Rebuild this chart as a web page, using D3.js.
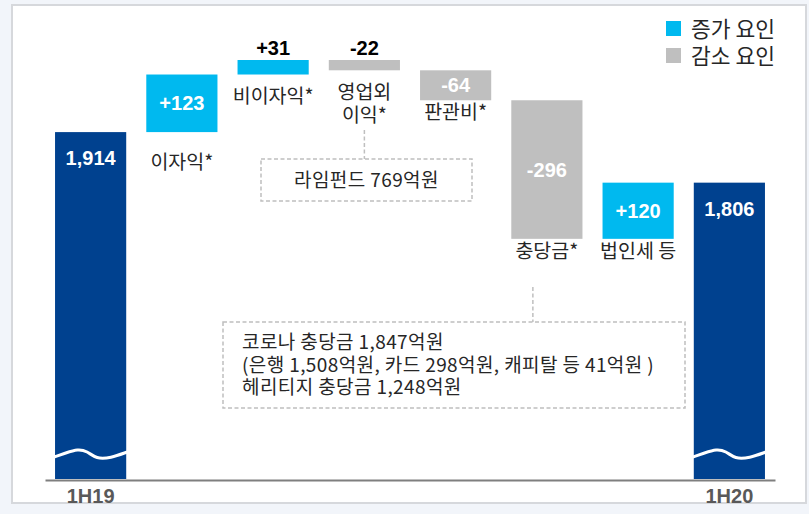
<!DOCTYPE html>
<html>
<head>
<meta charset="utf-8">
<script src="https://cdn.jsdelivr.net/npm/d3@7"></script>
<style>
   html, body { margin: 0; padding: 0; background: #f2f5fa; }
   svg { display: block; }
   .kr { font-family: 'Noto Sans CJK KR', 'Noto Sans', sans-serif; }
   .num { font-family: 'Liberation Sans', Arial, sans-serif; font-weight: bold; }
</style>
</head>
<body>
<div id="chart"></div>
<script>
// waterfall: 1H19 -> 1H20 net income (억원)
const categories = ['1H19', '이자익*', '비이자익*', '영업외\n이익*', '판관비*', '충당금*', '법인세 등', '1H20'];
const values = [1914, 123, 31, -22, -64, -296, 120, 1806];
const kinds = ['total', 'up', 'up', 'down', 'down', 'down', 'up', 'total'];
const valueLabels = ['1,914', '+123', '+31', '-22', '-64', '-296', '+120', '1,806'];
const axisTicks = ['1H19', '1H20'];
const legendLabels = ['증가 요인', '감소 요인'];
const noteLime = ['라임펀드 769억원'];
const noteCorona = [
   '코로나 충당금 1,847억원',
   '(은행 1,508억원, 카드 298억원, 캐피탈 등 41억원 )',
   '헤리티지 충당금 1,248억원',
];

const W = 809, H = 514;
const colors = { total: '#00418f', up: '#00b9ef', down: '#bfbfbf' };
const textColor = '#262626';

const svg = d3.select('#chart').append('svg').attr('width', W).attr('height', H);

// white panel
svg.append('rect')
   .attr('x', 12).attr('y', 5).attr('width', 794).attr('height', 498)
   .attr('fill', '#fff').attr('stroke', '#d6d8dc').attr('stroke-width', 2);

const x = d3.scaleBand().domain(categories).range([45, 775]).paddingInner(0.22).paddingOuter(0.11);
const y = d3.scaleLinear().domain([1173, 2068]).range([479, 60]);
const base = y.domain()[0];

// running totals
let run = 0;
const bars = categories.map((c, i) => {
   let from, to;
   if (kinds[i] === 'total') {
      from = base; to = values[i]; run = values[i];
   } else {
      from = run; to = run + values[i]; run = to;
   }
   return { cat: c, kind: kinds[i], label: valueLabels[i], top: Math.max(from, to), bottom: Math.min(from, to) };
});

const g = svg.append('g');

g.selectAll('.bar')
   .data(bars)
   .join('rect')
   .attr('class', 'bar')
   .attr('x', (d) => x(d.cat))
   .attr('y', (d) => y(d.top))
   .attr('width', x.bandwidth())
   .attr('height', (d) => y(d.bottom) - y(d.top))
   .attr('fill', (d) => colors[d.kind]);

// axis break wave on totals
const wave = d3.line().curve(d3.curveBasis);
const waveY = y(base) - 25;
g.selectAll('.wave')
   .data(bars.filter((d) => d.kind === 'total'))
   .join('path')
   .attr('class', 'wave')
   .attr('d', (d) => {
      const x0 = x(d.cat), w = x.bandwidth();
      return wave([
         [x0 - 1, waveY + 3], [x0 + w * 0.15, waveY - 1], [x0 + w * 0.32, waveY - 5],
         [x0 + w * 0.45, waveY - 3], [x0 + w * 0.58, waveY + 5], [x0 + w * 0.78, waveY + 4],
         [x0 + w + 1, waveY - 2],
      ]);
   })
   .attr('fill', 'none').attr('stroke', '#fff').attr('stroke-width', 3);

// value labels: inside for big bars, above for thin ones
g.selectAll('.val')
   .data(bars)
   .join('text')
   .attr('class', 'val num')
   .attr('x', (d) => x(d.cat) + x.bandwidth() / 2)
   .attr('y', (d) => {
      const h = y(d.bottom) - y(d.top);
      if (d.kind === 'total') return y(d.top) + 26;
      if (h < 20) return y(d.top) - 12;
      return y(d.top) + h / 2;
   })
   .attr('dy', '0.35em')
   .attr('text-anchor', 'middle')
   .attr('font-size', 20)
   .attr('fill', (d) => (y(d.bottom) - y(d.top) < 20 ? '#000' : '#fff'))
   .text((d) => d.label);

// category labels under change bars
const labelGap = { '이자익*': 30, '비이자익*': 22, '영업외\n이익*': 22 };
const catLabels = g.selectAll('.cat')
   .data(bars.filter((d) => d.kind !== 'total'))
   .join('text')
   .attr('class', 'cat kr')
   .attr('text-anchor', 'middle')
   .attr('font-size', 19.5)
   .attr('fill', textColor)
   .attr('transform', (d) => `translate(${x(d.cat) + x.bandwidth() / 2},${y(d.bottom) + (labelGap[d.cat] || 12)})`);
catLabels.selectAll('tspan')
   .data((d) => d.cat.split('\n'))
   .join('tspan')
   .attr('x', 0)
   .attr('y', (d, i) => i * 23)
   .attr('dy', '0.35em')
   .text((d) => d);

// x axis
const xAxisG = svg.append('g')
   .attr('transform', `translate(0,${y(base) + 1})`)
   .call(d3.axisBottom(x).tickValues(axisTicks).tickSize(0).tickPadding(9));
xAxisG.select('.domain').attr('stroke', '#7f7f7f').attr('stroke-width', 2);
xAxisG.selectAll('text')
   .attr('class', 'num')
   .attr('font-size', 20)
   .attr('fill', '#595959');

// legend
const legend = svg.append('g').attr('transform', 'translate(666,21)');
legendLabels.forEach((t, i) => {
   const row = legend.append('g').attr('transform', `translate(0,${i * 27})`);
   row.append('rect').attr('width', 15).attr('height', 15).attr('fill', i === 0 ? colors.up : colors.down);
   row.append('text')
      .attr('class', 'kr')
      .attr('x', 25).attr('y', 8).attr('dy', '0.35em')
      .attr('font-size', 21.5).attr('fill', textColor)
      .text(t);
});

// dashed callouts
const dash = { stroke: '#bfbfbf', 'stroke-width': 1.5, 'stroke-dasharray': '4,2.5', fill: 'none' };
function callout(box, line, lines, align) {
   const c = svg.append('g');
   const l = c.append('line').attr('x1', line[0]).attr('x2', line[0]).attr('y1', line[1]).attr('y2', box.y);
   const r = c.append('rect').attr('x', box.x).attr('y', box.y).attr('width', box.w).attr('height', box.h);
   Object.entries(dash).forEach(([k, v]) => { l.attr(k, v); r.attr(k, v); });
   const t = c.append('text')
      .attr('class', 'kr')
      .attr('font-size', 19)
      .attr('letter-spacing', 0.4)
      .attr('fill', textColor)
      .attr('text-anchor', align === 'middle' ? 'middle' : 'start');
   const tx = align === 'middle' ? box.x + box.w / 2 : box.x + 19;
   const ty = box.y + box.h / 2 - (lines.length - 1) * 22.5 / 2;
   t.selectAll('tspan').data(lines).join('tspan')
      .attr('x', tx).attr('y', (d, i) => ty + i * 22.5).attr('dy', '0.35em')
      .text((d) => d);
}
const limeX = x('영업외\n이익*') + x.bandwidth() / 2;
callout({ x: 261, y: 159, w: 211, h: 42 }, [limeX, 130], noteLime, 'middle');
const provX = x('충당금*') + x.bandwidth() / 2 - 14;
callout({ x: 223, y: 322, w: 462, h: 86 }, [provX, 287], noteCorona, 'start');
</script>
</body>
</html>
